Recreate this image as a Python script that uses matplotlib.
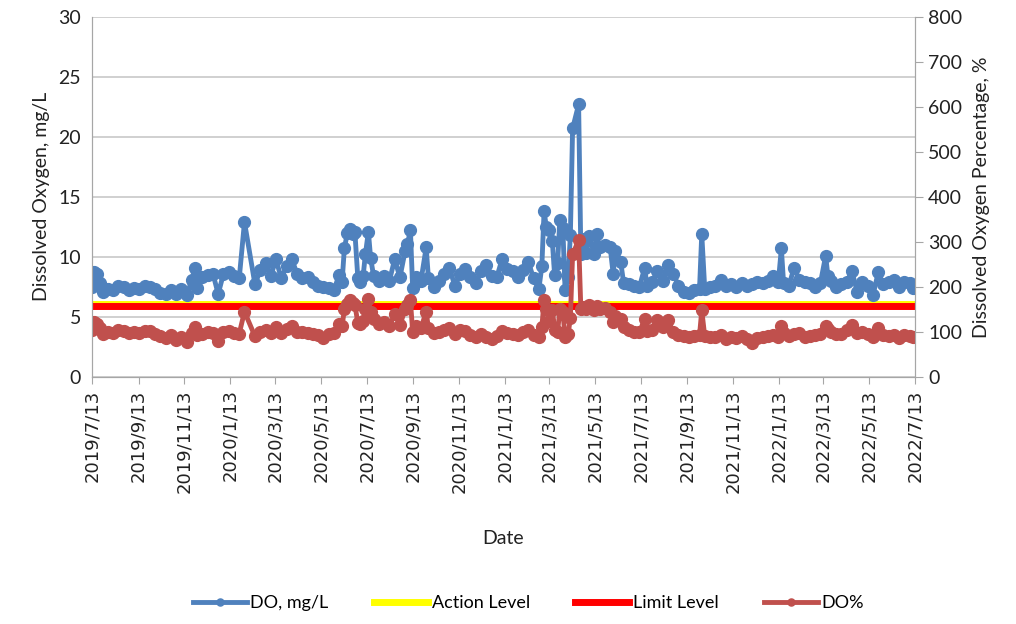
import matplotlib.pyplot as plt
import pandas as pd
import numpy as np

# sampling dates and readings
dates = [
    "2019-07-13", "2019-07-16", "2019-07-20", "2019-07-24", "2019-07-27", "2019-08-03", "2019-08-10",
    "2019-08-17", "2019-08-24", "2019-08-31", "2019-09-07", "2019-09-14", "2019-09-21", "2019-09-28",
    "2019-10-05", "2019-10-12", "2019-10-19", "2019-10-26", "2019-11-02", "2019-11-09", "2019-11-16",
    "2019-11-23", "2019-11-27", "2019-11-30", "2019-12-07", "2019-12-14", "2019-12-21", "2019-12-28",
    "2020-01-04", "2020-01-11", "2020-01-18", "2020-01-25", "2020-02-01", "2020-02-15", "2020-02-22",
    "2020-02-29", "2020-03-07", "2020-03-14", "2020-03-21", "2020-03-28", "2020-04-04", "2020-04-11",
    "2020-04-18", "2020-04-25", "2020-05-02", "2020-05-09", "2020-05-16", "2020-05-23", "2020-05-30",
    "2020-06-06", "2020-06-10", "2020-06-13", "2020-06-17", "2020-06-20", "2020-06-24", "2020-06-27",
    "2020-07-01", "2020-07-04", "2020-07-08", "2020-07-11", "2020-07-15", "2020-07-18", "2020-07-22",
    "2020-07-29", "2020-08-05", "2020-08-12", "2020-08-19", "2020-08-26", "2020-09-02", "2020-09-05",
    "2020-09-09", "2020-09-12", "2020-09-16", "2020-09-23", "2020-09-30", "2020-10-03", "2020-10-10",
    "2020-10-17", "2020-10-24", "2020-10-31", "2020-11-07", "2020-11-14", "2020-11-21", "2020-11-28",
    "2020-12-05", "2020-12-12", "2020-12-19", "2020-12-26", "2021-01-02", "2021-01-09", "2021-01-16",
    "2021-01-23", "2021-01-30", "2021-02-06", "2021-02-13", "2021-02-20", "2021-02-27", "2021-03-03",
    "2021-03-06", "2021-03-09", "2021-03-13", "2021-03-17", "2021-03-20", "2021-03-24", "2021-03-27",
    "2021-03-31", "2021-04-03", "2021-04-07", "2021-04-10", "2021-04-13", "2021-04-21", "2021-04-24",
    "2021-04-28", "2021-05-01", "2021-05-05", "2021-05-12", "2021-05-15", "2021-05-19", "2021-05-26",
    "2021-06-02", "2021-06-06", "2021-06-09", "2021-06-16", "2021-06-20", "2021-06-27", "2021-07-04",
    "2021-07-11", "2021-07-18", "2021-07-21", "2021-07-28", "2021-08-04", "2021-08-11", "2021-08-18",
    "2021-08-25", "2021-09-01", "2021-09-08", "2021-09-15", "2021-09-22", "2021-09-29", "2021-10-02",
    "2021-10-06", "2021-10-13", "2021-10-20", "2021-10-27", "2021-11-03", "2021-11-10", "2021-11-17",
    "2021-11-24", "2021-12-01", "2021-12-08", "2021-12-15", "2021-12-22", "2021-12-29", "2022-01-05",
    "2022-01-12", "2022-01-16", "2022-01-19", "2022-01-26", "2022-02-02", "2022-02-09", "2022-02-16",
    "2022-02-23", "2022-03-02", "2022-03-09", "2022-03-16", "2022-03-19", "2022-03-23", "2022-03-30",
    "2022-04-06", "2022-04-13", "2022-04-20", "2022-04-27", "2022-05-04", "2022-05-11", "2022-05-18",
    "2022-05-25", "2022-06-01", "2022-06-08", "2022-06-15", "2022-06-22", "2022-06-29", "2022-07-06",
    "2022-07-10",
]

do_mgl = [
    7.5, 8.7, 8.6, 7.8, 7.1, 7.3, 7.2, 7.6, 7.5, 7.2, 7.4, 7.3, 7.6, 7.5,
    7.3, 7.0, 6.9, 7.2, 6.9, 7.3, 6.8, 8.1, 9.1, 7.4, 8.3, 8.5, 8.6, 6.9,
    8.6, 8.7, 8.4, 8.2, 12.9, 7.7, 8.9, 9.5, 8.4, 9.8, 8.2, 9.2, 9.8, 8.6,
    8.2, 8.3, 7.9, 7.6, 7.5, 7.4, 7.2, 8.5, 7.9, 10.7, 12.0, 12.3, 11.9, 12.1,
    8.2, 7.9, 8.4, 10.2, 12.1, 9.9, 8.4, 8.0, 8.4, 8.0, 9.8, 8.3, 10.5, 11.1,
    12.2, 7.4, 8.3, 8.0, 10.8, 8.2, 7.5, 8.0, 8.6, 9.1, 7.6, 8.6, 9.0, 8.3,
    7.8, 8.8, 9.3, 8.4, 8.3, 9.8, 9.0, 8.8, 8.3, 8.9, 9.6, 8.2, 7.3, 9.2,
    13.8, 12.5, 12.2, 11.3, 8.5, 9.5, 13.1, 12.4, 7.2, 8.3, 11.8, 20.7, 22.7, 10.2,
    11.5, 10.3, 11.7, 10.2, 11.9, 10.8, 11.0, 10.8, 8.6, 10.5, 9.6, 7.8, 7.7, 7.6,
    7.5, 9.1, 7.6, 7.9, 8.8, 8.0, 9.3, 8.6, 7.6, 7.1, 7.0, 7.2, 7.3, 11.9,
    7.3, 7.5, 7.6, 8.1, 7.6, 7.7, 7.5, 7.8, 7.6, 7.7, 7.9, 7.8, 8.0, 8.4,
    7.9, 10.7, 7.8, 7.6, 9.1, 8.1, 7.9, 7.8, 7.5, 7.8, 10.1, 8.4, 8.0, 7.5,
    7.7, 7.9, 8.8, 7.1, 7.9, 7.6, 6.8, 8.7, 7.7, 7.9, 8.1, 7.5, 7.9, 7.8,
    7.4,
]

do_pct = [
    104, 122, 118, 109, 96, 100, 98, 104, 102, 97, 100, 98, 103, 102,
    96, 90, 86, 92, 82, 88, 78, 98, 111, 92, 95, 100, 98, 79,
    100, 102, 98, 96, 145, 90, 100, 105, 97, 110, 98, 106, 112, 100,
    99, 97, 96, 92, 86, 95, 98, 118, 112, 150, 163, 170, 165, 160,
    120, 118, 125, 150, 172, 145, 128, 118, 121, 112, 140, 115, 150, 160,
    170, 100, 112, 108, 145, 108, 98, 100, 104, 108, 96, 104, 102, 94,
    88, 95, 88, 85, 90, 102, 98, 96, 94, 100, 104, 92, 88, 110,
    170, 150, 125, 148, 105, 100, 150, 145, 88, 95, 130, 272, 304, 150,
    156, 150, 160, 148, 158, 150, 152, 145, 122, 135, 128, 110, 104, 100,
    100, 128, 102, 104, 126, 110, 126, 100, 94, 90, 88, 90, 92, 148,
    90, 88, 88, 92, 85, 88, 86, 90, 85, 75, 86, 88, 90, 92,
    88, 112, 98, 90, 96, 98, 88, 90, 92, 95, 112, 106, 100, 95,
    96, 105, 116, 98, 100, 95, 88, 108, 92, 90, 92, 86, 92, 90,
    89,
]

action_level = 6.1
limit_level = 5.9

x = pd.to_datetime(dates)
blue = "#4F81BD"
brick = "#C0504D"
txt = '#222222'

plt.rcParams['font.family'] = ['Lato', 'DejaVu Sans']

fig = plt.figure(figsize=(10.16, 6.24), dpi=100)
ax = fig.add_axes([0.0906, 0.396, 0.81, 0.577])
ax2 = ax.twinx()

ax.plot(x, do_mgl, color=blue, lw=3.5, marker='o', ms=8.5, label='DO, mg/L', zorder=3)
ax.plot(x, np.full(len(x), action_level), color='#FFFF00', lw=5, label='Action Level', zorder=2)
ax.plot(x, np.full(len(x), limit_level), color='#FF0000', lw=5, label='Limit Level', zorder=2)
ax2.plot(x, do_pct, color=brick, lw=3.5, marker='o', ms=8.5, label='DO%')

ax.set_ylim(0, 30)
ax.set_yticks(range(0, 31, 5))
ax2.set_ylim(0, 800)
ax2.set_yticks(range(0, 801, 100))
ax.set_xlim(pd.Timestamp("2019-07-13"), pd.Timestamp("2022-07-13"))

ticks = pd.date_range("2019-07-13", "2022-07-13", freq=pd.DateOffset(months=2))
ax.set_xticks(ticks)
ax.set_xticklabels([f"{t.year}/{t.month}/{t.day}" for t in ticks], rotation=90,
                   family='DejaVu Sans', fontsize=13, color=txt)

ax.grid(axis='y', color='#C8C8C8', lw=1.2)
ax.set_axisbelow(True)
for a in (ax, ax2):
    for s in a.spines.values():
        s.set_color('#A6A6A6')
    a.spines['top'].set_visible(False)
ax.tick_params(axis='y', length=0, labelsize=14, pad=8, labelcolor=txt)
ax.tick_params(axis='x', length=5, color='#A6A6A6', pad=4)
ax2.tick_params(axis='y', length=6, color='#A6A6A6', labelsize=14, labelcolor=txt)

ax.set_ylabel('Dissolved Oxygen, mg/L', fontsize=14, color=txt, labelpad=6)
ax2.set_ylabel('Dissolved Oxygen Percentage, %', fontsize=14, color=txt, labelpad=8)
ax.set_xlabel('Date', fontsize=14, color=txt, labelpad=27)

h1, l1 = ax.get_legend_handles_labels()
h2, l2 = ax2.get_legend_handles_labels()
leg = fig.legend(h1 + h2, l1 + l2, loc='center', bbox_to_anchor=(0.52, 0.033), ncol=4,
                 frameon=False, fontsize=13, handlelength=3, columnspacing=2.5,
                 handletextpad=0.2, markerscale=0.6)

fig.savefig("out.png", dpi=100)
